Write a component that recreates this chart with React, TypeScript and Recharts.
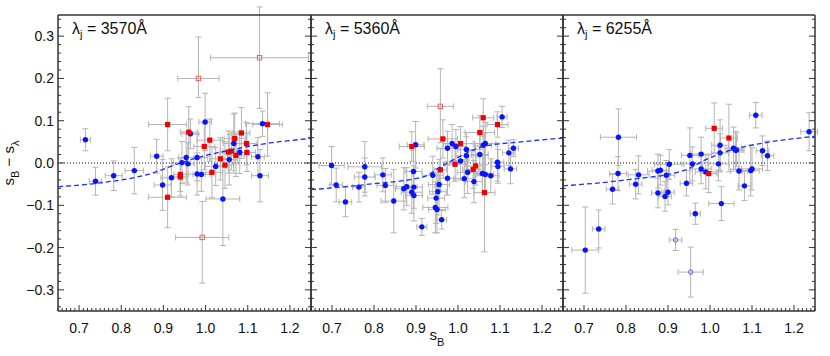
import React from "react";
import { ErrorBar, ReferenceLine, Scatter, ScatterChart, XAxis, YAxis } from "recharts";

// point = [s_B, s_B - s_lambda, err x, err y (low), err y (high, optional)]
type Pt = [number, number, number, number, number?];

const X_MAJOR = [0.7, 0.8, 0.9, 1.0, 1.1, 1.2];
const Y_MAJOR = [-0.3, -0.2, -0.1, 0.0, 0.1, 0.2, 0.3];
const WAVES = ["3570", "5360", "6255"];

// panel 1: lambda_j = 3570
const P1_BLUE: Pt[] = [
	[0.715, 0.055, 0.012, 0.026],
	[0.739, -0.043, 0.015, 0.033],
	[0.782, -0.03, 0.02, 0.035],
	[0.831, -0.018, 0.022, 0.055],
	[0.884, 0.016, 0.015, 0.04],
	[0.898, -0.052, 0.02, 0.06],
	[0.919, -0.035, 0.025, 0.045],
	[0.944, 0.001, 0.02, 0.05],
	[0.954, 0.013, 0.018, 0.06],
	[0.958, -0.002, 0.015, 0.05],
	[0.964, 0.069, 0.02, 0.035],
	[0.98, 0.013, 0.025, 0.055],
	[0.98, -0.026, 0.02, 0.05],
	[0.99, -0.027, 0.02, 0.04],
	[0.999, 0.097, 0.015, 0.068],
	[1.024, -0.008, 0.025, 0.045],
	[1.041, -0.085, 0.04, 0.11],
	[1.056, 0.008, 0.02, 0.06],
	[1.067, 0.046, 0.025, 0.07],
	[1.081, 0.025, 0.02, 0.05],
	[1.124, 0.015, 0.015, 0.045],
	[1.129, -0.03, 0.02, 0.062],
	[1.135, 0.093, 0.04, 0.03],
];
const P1_RED: Pt[] = [
	[0.91, 0.091, 0.045, 0.062],
	[0.91, -0.081, 0.045, 0.072],
	[0.94, -0.027, 0.015, 0.04],
	[0.94, -0.033, 0.015, 0.045],
	[0.96, 0.073, 0.02, 0.06],
	[0.997, 0.039, 0.025, 0.055],
	[1.01, 0.054, 0.03, 0.05],
	[1.015, -0.022, 0.025, 0.06],
	[1.035, 0.01, 0.025, 0.05],
	[1.046, -0.005, 0.02, 0.055],
	[1.054, 0.026, 0.02, 0.05],
	[1.061, 0.028, 0.02, 0.045],
	[1.069, 0.058, 0.025, 0.06],
	[1.072, 0.018, 0.02, 0.05],
	[1.085, 0.071, 0.02, 0.06],
	[1.097, 0.046, 0.025, 0.05],
	[1.098, 0.025, 0.02, 0.045],
	[1.147, 0.091, 0.035, 0.075],
];
const P1_OPEN_RED: Pt[] = [
	[0.983, 0.2, 0.049, 0.045, 0.098],
	[0.992, -0.176, 0.063, 0.108, 0.085],
	[1.128, 0.249, 0.116, 0.12],
];
const P1_FIT_X = [0.65, 0.75, 0.87, 0.94, 0.99, 1.06, 1.13, 1.25];
const P1_FIT_Y = [-0.056, -0.047, -0.025, 0.0, 0.015, 0.031, 0.044, 0.058];

// panel 2: lambda_j = 5360
const P2_BLUE: Pt[] = [
	[0.699, -0.006, 0.03, 0.045],
	[0.71, -0.052, 0.015, 0.04],
	[0.732, -0.092, 0.015, 0.035],
	[0.764, -0.057, 0.015, 0.035],
	[0.778, -0.009, 0.04, 0.06],
	[0.778, -0.033, 0.025, 0.045],
	[0.821, -0.028, 0.02, 0.04],
	[0.827, -0.053, 0.02, 0.04],
	[0.847, -0.09, 0.03, 0.075],
	[0.871, -0.061, 0.02, 0.05],
	[0.878, -0.056, 0.025, 0.045],
	[0.89, -0.069, 0.025, 0.05],
	[0.894, -0.02, 0.02, 0.05],
	[0.895, -0.057, 0.02, 0.05],
	[0.895, -0.077, 0.02, 0.06],
	[0.899, 0.043, 0.02, 0.055],
	[0.914, -0.151, 0.012, 0.02],
	[0.94, -0.029, 0.025, 0.045],
	[0.946, -0.105, 0.03, 0.06],
	[0.948, -0.083, 0.02, 0.06],
	[0.95, -0.11, 0.02, 0.055],
	[0.952, -0.068, 0.02, 0.055],
	[0.955, -0.051, 0.025, 0.06],
	[0.961, -0.134, 0.012, 0.022],
	[0.975, 0.035, 0.025, 0.04],
	[0.975, -0.036, 0.02, 0.04],
	[0.986, 0.046, 0.02, 0.045],
	[0.995, 0.039, 0.025, 0.04],
	[1.006, 0.005, 0.02, 0.045],
	[1.015, -0.037, 0.025, 0.045],
	[1.02, 0.032, 0.02, 0.04],
	[1.02, 0.017, 0.025, 0.045],
	[1.023, -0.022, 0.025, 0.05],
	[1.038, -0.044, 0.02, 0.05],
	[1.052, 0.02, 0.02, 0.05],
	[1.058, -0.025, 0.02, 0.045],
	[1.06, 0.042, 0.02, 0.045],
	[1.065, 0.046, 0.025, 0.05],
	[1.065, -0.027, 0.02, 0.045],
	[1.078, -0.03, 0.02, 0.04],
	[1.094, 0.002, 0.015, 0.045],
	[1.095, -0.008, 0.015, 0.04],
	[1.105, 0.109, 0.012, 0.025],
	[1.121, 0.024, 0.015, 0.03],
	[1.125, -0.014, 0.015, 0.035],
	[1.132, 0.035, 0.012, 0.02],
];
const P2_RED: Pt[] = [
	[0.89, 0.039, 0.03, 0.035],
	[0.958, -0.016, 0.015, 0.05],
	[0.964, 0.057, 0.035, 0.045],
	[0.993, -0.003, 0.025, 0.04],
	[1.006, 0.046, 0.03, 0.04],
	[1.036, -0.015, 0.025, 0.045],
	[1.042, -0.007, 0.02, 0.045],
	[1.052, 0.072, 0.035, 0.04],
	[1.06, 0.107, 0.025, 0.045],
	[1.063, -0.07, 0.025, 0.14],
	[1.094, 0.091, 0.025, 0.03],
];
const P2_OPEN_RED: Pt[] = [[0.958, 0.134, 0.031, 0.086, 0.089]];
const P2_FIT_X = [0.65, 0.78, 0.92, 0.96, 0.99, 1.06, 1.15, 1.25];
const P2_FIT_Y = [-0.063, -0.051, -0.032, -0.008, 0.008, 0.039, 0.05, 0.059];

// panel 3: lambda_j = 6255
const P3_BLUE: Pt[] = [
	[0.703, -0.206, 0.032, 0.102],
	[0.735, -0.156, 0.015, 0.045],
	[0.768, -0.062, 0.015, 0.035],
	[0.781, -0.025, 0.02, 0.04],
	[0.782, 0.061, 0.043, 0.067],
	[0.823, -0.05, 0.015, 0.035],
	[0.83, -0.028, 0.025, 0.045],
	[0.876, -0.019, 0.025, 0.04],
	[0.876, -0.071, 0.015, 0.035],
	[0.882, -0.017, 0.02, 0.035],
	[0.893, -0.079, 0.015, 0.035],
	[0.896, -0.029, 0.02, 0.035],
	[0.9, -0.069, 0.015, 0.03],
	[0.903, -0.003, 0.035, 0.035],
	[0.944, -0.048, 0.015, 0.03],
	[0.952, 0.018, 0.02, 0.065],
	[0.958, -0.002, 0.025, 0.04],
	[0.965, -0.12, 0.012, 0.025],
	[0.979, 0.021, 0.025, 0.04],
	[0.979, -0.014, 0.025, 0.035],
	[0.99, -0.021, 0.025, 0.04],
	[1.02, -0.002, 0.025, 0.04],
	[1.024, 0.042, 0.02, 0.06],
	[1.024, 0.024, 0.02, 0.045],
	[1.027, -0.096, 0.03, 0.04],
	[1.056, 0.035, 0.02, 0.05],
	[1.061, 0.03, 0.02, 0.045],
	[1.063, 0.031, 0.015, 0.04],
	[1.069, -0.019, 0.02, 0.045],
	[1.082, -0.054, 0.015, 0.035],
	[1.097, -0.018, 0.02, 0.06],
	[1.1, -0.014, 0.025, 0.05],
	[1.109, 0.113, 0.015, 0.03],
	[1.125, 0.029, 0.015, 0.035],
	[1.137, 0.017, 0.015, 0.035],
	[1.236, 0.074, 0.02, 0.045],
];
const P3_RED: Pt[] = [
	[0.997, -0.025, 0.02, 0.045],
	[1.01, 0.082, 0.02, 0.06],
	[1.045, 0.059, 0.02, 0.08],
];
const P3_OPEN_BLUE: Pt[] = [
	[0.918, -0.182, 0.015, 0.025],
	[0.954, -0.258, 0.03, 0.059],
];
const P3_FIT_X = [0.65, 0.8, 0.94, 0.99, 1.055, 1.12, 1.25];
const P3_FIT_Y = [-0.054, -0.04, -0.017, 0.008, 0.032, 0.046, 0.063];

const FONT = "'Liberation Sans', Arial, sans-serif";
const AXIS = { stroke: "#333", strokeWidth: 1.5 };
const ERR_COLOR = "#b4b4b4";

// minor tick positions: 0.01 on x, 0.02 on y (majors come from X_MAJOR / Y_MAJOR)
const X_MINOR: number[] = [];
for (let i = 65; i <= 125; i++) X_MINOR.push(i / 100);
const Y_MINOR: number[] = [];
for (let i = -17; i <= 17; i++) Y_MINOR.push((i * 2) / 100);

const isMajor = (v: number, majors: number[]) => majors.some((m) => Math.abs(m - v) < 1e-6);
const fmt = (v: number) => v.toFixed(1).replace("-", "\u2212");

function rows(pts: Pt[], kind: string) {
	return pts.map(([x, y, ex, lo, hi]) => ({
		x,
		y,
		ex,
		ey: hi === undefined ? lo : [lo, hi],
		kind,
	}));
}

function fitRows(xs: number[], ys: number[]) {
	return xs.map((x, i) => ({ x, y: ys[i] }));
}

function XTick(props: any) {
	const { x, y, payload, side, labels } = props;
	const v = payload.value as number;
	const major = isMajor(v, X_MAJOR);
	const len = major ? 6 : 3;
	const dir = side === "bottom" ? -1 : 1;
	return (
		<g>
			<line x1={x} x2={x} y1={y} y2={y + dir * len} stroke="#333" strokeWidth={1} />
			{labels && major && (
				<text x={x} y={y + 12} dy="0.72em" textAnchor="middle" fontSize={14} fill="#111" fontFamily={FONT}>
					{v.toFixed(1)}
				</text>
			)}
		</g>
	);
}

function YTick(props: any) {
	const { x, y, payload, side, labels } = props;
	const v = payload.value as number;
	const major = isMajor(v, Y_MAJOR);
	const len = major ? 6 : 3;
	const dir = side === "left" ? 1 : -1;
	return (
		<g>
			<line x1={x} x2={x + dir * len} y1={y} y2={y} stroke="#333" strokeWidth={1} />
			{labels && major && (
				<text x={x - 4} y={y} dy="0.36em" textAnchor="end" fontSize={14} fill="#111" fontFamily={FONT}>
					{fmt(v)}
				</text>
			)}
		</g>
	);
}

function Marker(props: any) {
	const { cx, cy, payload } = props;
	if (cx == null || cy == null) return <g />;
	switch (payload.kind) {
		case "red":
			return <rect x={cx - 2.6} y={cy - 2.6} width={5.2} height={5.2} fill="#f00000" />;
		case "openRed":
			return <rect x={cx - 2.2} y={cy - 2.2} width={4.4} height={4.4} fill="none" stroke="#ee6060" strokeWidth={1} />;
		case "openBlue":
			return <circle cx={cx} cy={cy} r={2.2} fill="none" stroke="#5a5aff" strokeWidth={1} />;
		default:
			return <circle cx={cx} cy={cy} r={2.7} fill="#0814ff" />;
	}
}

const NoMarker = () => <g />;

function panelTitle(wave: string) {
	return (p: any) => {
		const vb = p.viewBox || { x: 0, y: 14, height: 1 };
		const top = vb.y + (vb.height || 0);
		return (
			<text x={vb.x + 14} y={top + 19} fontSize={16} fill="#111" fontFamily={FONT}>
				λ
				<tspan dy={4} fontSize={11}>
					j
				</tspan>
				<tspan dy={-4}>{` = ${wave}Å`}</tspan>
			</text>
		);
	};
}

function xTitle(p: any) {
	const vb = p.viewBox || { x: 311, y: 311, width: 252 };
	return (
		<text x={vb.x + vb.width / 2} y={vb.y + 29} textAnchor="middle" fontSize={15} fill="#111" fontFamily={FONT}>
			s
			<tspan dy={6} fontSize={11}>
				B
			</tspan>
		</text>
	);
}

function yTitle(p: any) {
	const vb = p.viewBox || { x: 0, y: 15, height: 296 };
	const cy = vb.y + vb.height / 2;
	return (
		<text transform={`translate(14,${cy}) rotate(-90)`} textAnchor="middle" fontSize={15} fill="#111" fontFamily={FONT}>
			s
			<tspan dy={5} fontSize={11}>
				B
			</tspan>
			<tspan dy={-5}>{" \u2212 s"}</tspan>
			<tspan dy={5} fontSize={11}>
				λ
			</tspan>
		</text>
	);
}

interface PanelProps {
	left: number;
	width: number;
	marginLeft: number;
	marginRight: number;
	yAxisWidth: number;
	data: ReturnType<typeof rows>;
	fit: { x: number; y: number }[];
	wave: string;
	first: boolean;
	middle: boolean;
}

function Panel(p: PanelProps) {
	return (
		<div style={{ position: "absolute", left: p.left, top: 0 }}>
			<ScatterChart
				width={p.width}
				height={356}
				margin={{ top: 14, right: p.marginRight, bottom: 0, left: p.marginLeft }}
			>
				<XAxis
					type="number"
					dataKey="x"
					domain={[0.65, 1.25]}
					allowDataOverflow
					ticks={X_MINOR}
					interval={0}
					tickSize={0}
					tickMargin={0}
					tickLine={false}
					axisLine={AXIS}
					height={45}
					tick={(t: any) => <XTick {...t} side="bottom" labels />}
					label={p.middle ? xTitle : undefined}
				/>
				<XAxis
					xAxisId="top"
					orientation="top"
					type="number"
					domain={[0.65, 1.25]}
					allowDataOverflow
					ticks={X_MINOR}
					interval={0}
					tickSize={0}
					tickMargin={0}
					tickLine={false}
					axisLine={AXIS}
					height={1}
					tick={(t: any) => <XTick {...t} side="top" />}
					label={panelTitle(p.wave)}
				/>
				<YAxis
					type="number"
					dataKey="y"
					domain={[-0.35, 0.35]}
					allowDataOverflow
					ticks={Y_MINOR}
					interval={0}
					tickSize={0}
					tickMargin={0}
					tickLine={false}
					axisLine={AXIS}
					width={p.yAxisWidth}
					tick={(t: any) => <YTick {...t} side="left" labels={p.first} />}
					label={p.first ? yTitle : undefined}
				/>
				<YAxis
					yAxisId="right"
					orientation="right"
					type="number"
					domain={[-0.35, 0.35]}
					allowDataOverflow
					ticks={Y_MINOR}
					interval={0}
					tickSize={0}
					tickMargin={0}
					tickLine={false}
					axisLine={AXIS}
					width={1}
					tick={(t: any) => <YTick {...t} side="right" />}
				/>
				<ReferenceLine y={0} stroke="#000" strokeWidth={1} strokeDasharray="1 2" />
				<Scatter data={p.data} shape={Marker} isAnimationActive={false}>
					<ErrorBar dataKey="ex" direction="x" width={3} stroke={ERR_COLOR} strokeWidth={1} />
					<ErrorBar dataKey="ey" direction="y" width={3} stroke={ERR_COLOR} strokeWidth={1} />
				</Scatter>
				<Scatter
					data={p.fit}
					shape={NoMarker}
					line={{ stroke: "#1a2cff", strokeWidth: 1.3, strokeDasharray: "5 3" }}
					lineJointType="monotoneX"
					isAnimationActive={false}
				/>
			</ScatterChart>
		</div>
	);
}

export default function App(): React.ReactElement {
	const d1 = [...rows(P1_OPEN_RED, "openRed"), ...rows(P1_BLUE, "blue"), ...rows(P1_RED, "red")];
	const d2 = [...rows(P2_OPEN_RED, "openRed"), ...rows(P2_BLUE, "blue"), ...rows(P2_RED, "red")];
	const d3 = [...rows(P3_OPEN_BLUE, "openBlue"), ...rows(P3_BLUE, "blue"), ...rows(P3_RED, "red")];
	return (
		<div style={{ position: "absolute", left: 0, top: 0, width: 830, height: 356, background: "#fff" }}>
			<Panel left={0} width={320} marginLeft={0} marginRight={8} yAxisWidth={58} data={d1} fit={fitRows(P1_FIT_X, P1_FIT_Y)} wave={WAVES[0]} first middle={false} />
			<Panel left={300} width={270} marginLeft={10} marginRight={6} yAxisWidth={1} data={d2} fit={fitRows(P2_FIT_X, P2_FIT_Y)} wave={WAVES[1]} first={false} middle />
			<Panel left={552} width={278} marginLeft={10} marginRight={14} yAxisWidth={1} data={d3} fit={fitRows(P3_FIT_X, P3_FIT_Y)} wave={WAVES[2]} first={false} middle={false} />
		</div>
	);
}
